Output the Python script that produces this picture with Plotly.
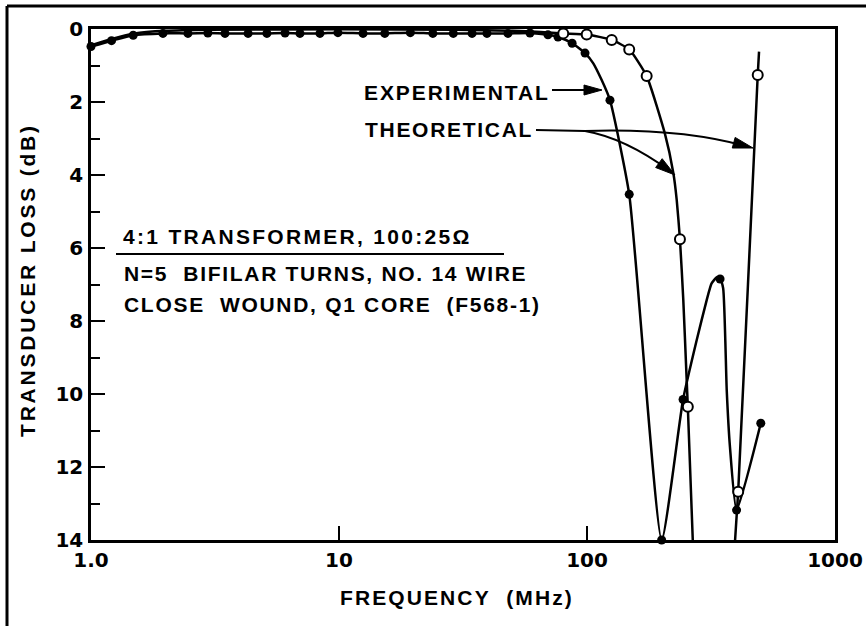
import plotly.graph_objects as go
import math

# ---------------- data ----------------
# Experimental (measured, filled dots)
exp_freq = [1.0, 1.21, 1.48, 1.95, 2.46, 2.96, 3.47, 4.30, 5.12, 6.06, 6.96, 8.38,
            9.9, 12.5, 15.3, 19.4, 23.9, 28.9, 34.4, 39.5, 48.0, 58.9, 69.6, 76.4,
            87.1, 98.2, 123.8, 148, 200, 244, 344, 401, 502]
exp_loss = [0.48, 0.32, 0.17, 0.12, 0.12, 0.11, 0.12, 0.12, 0.12, 0.11, 0.12, 0.12,
            0.10, 0.12, 0.12, 0.10, 0.12, 0.12, 0.12, 0.12, 0.12, 0.11, 0.16, 0.22,
            0.39, 0.66, 1.95, 4.53, 14.0, 10.15, 6.85, 13.18, 10.8]

# Experimental curve as drawn through the dots
exp_curve_freq = [1.0, 1.21, 1.48, 1.95, 2.46, 2.96, 3.47, 4.30, 5.12, 6.06, 6.96, 8.38,
                  9.9, 12.5, 15.3, 19.4, 23.9, 28.9, 34.4, 39.5, 48.0, 58.9, 69.6, 76.4,
                  87.1, 98.2, 106, 114.6, 123.8, 148, 200, 244, 277, 304, 318, 334,
                  344, 354, 366, 377, 401, 502]
exp_curve_loss = [0.48, 0.32, 0.17, 0.12, 0.12, 0.11, 0.12, 0.12, 0.12, 0.11, 0.12, 0.12,
                  0.10, 0.12, 0.12, 0.10, 0.12, 0.12, 0.12, 0.12, 0.12, 0.11, 0.16, 0.22,
                  0.39, 0.66, 0.94, 1.40, 1.95, 4.53, 14.0, 10.15, 8.52, 7.42, 6.97, 6.80,
                  6.85, 7.1, 9.9, 11.44, 13.18, 10.8]

# Theoretical curve (goes off scale between ~267 and ~395 MHz)
th_curve_freq = [1.0, 1.2, 1.5, 2.0, 3.0, 10, 30, 50, 65, 80.2, 99.7, 125.8, 148, 174,
                 206, 223, 230, 237, 244.5, 252, 255, 267, None, 395.5, 407, 488, 494]
th_curve_loss = [0.45, 0.28, 0.12, 0.05, 0.02, 0.01, 0.02, 0.05, 0.08, 0.12, 0.15, 0.30,
                 0.56, 1.29, 2.86, 3.95, 4.68, 5.76, 7.42, 9.53, 10.35, 14.0, None, 14.0,
                 12.68, 1.26, 0.62]
# Theoretical computed points (open circles)
th_pts_freq = [80.2, 99.7, 125.8, 148, 174, 237, 255, 407, 488]
th_pts_loss = [0.12, 0.15, 0.30, 0.56, 1.29, 5.76, 10.35, 12.68, 1.26]

x_tickvals = [1, 10, 100, 1000]
x_ticktext = ["1.0", "10", "100", "1000"]
y_tickvals = [0, 2, 4, 6, 8, 10, 12, 14]
y_minor = [1, 3, 5, 7, 9, 11, 13]

# ---------------- layout geometry ----------------
W_FIG, H_FIG = 866, 626
L, R, T, B = 91, 835, 29, 540
PW, PH = R - L, B - T

def px(x):
    return (x - L) / PW

def py(y):
    return (B - y) / PH

FONT = "Liberation Sans"
TICKFONT = "DejaVu Sans"
BLK = "black"

def spaced(txt, sp):
    return '<span style="letter-spacing:{}px">{}</span>'.format(sp, txt)

fig = go.Figure()

fig.add_trace(go.Scatter(x=th_curve_freq, y=th_curve_loss, mode="lines",
                         line=dict(color=BLK, width=2.5, shape="spline", smoothing=0.5),
                         connectgaps=False, hoverinfo="skip", showlegend=False))
fig.add_trace(go.Scatter(x=exp_curve_freq, y=exp_curve_loss, mode="lines",
                         line=dict(color=BLK, width=2.5, shape="spline", smoothing=0.5),
                         hoverinfo="skip", showlegend=False))
fig.add_trace(go.Scatter(x=exp_freq, y=exp_loss, mode="markers",
                         marker=dict(symbol="circle", size=9, color=BLK),
                         cliponaxis=False, name="Experimental", showlegend=False))
fig.add_trace(go.Scatter(x=th_pts_freq, y=th_pts_loss, mode="markers",
                         marker=dict(symbol="circle", size=10, color="white",
                                     line=dict(color=BLK, width=2)),
                         cliponaxis=False, name="Theoretical", showlegend=False))

tickfont = dict(family=TICKFONT, size=20, color=BLK, weight="bold")

fig.update_xaxes(type="log", range=[0, 3], tickvals=x_tickvals, ticktext=x_ticktext,
                 ticks="inside", ticklen=14, tickwidth=2, tickcolor=BLK,
                 showline=True, linewidth=2.5, linecolor=BLK, mirror=True,
                 showgrid=False, zeroline=False, tickfont=tickfont,
                 ticklabelstandoff=0, automargin=False)
fig.update_yaxes(range=[14, 0], tickvals=y_tickvals,
                 ticks="inside", ticklen=14, tickwidth=2, tickcolor=BLK,
                 minor=dict(tickvals=y_minor, ticks="inside", ticklen=9,
                            tickwidth=2, tickcolor=BLK),
                 showline=True, linewidth=2.5, linecolor=BLK, mirror=True,
                 showgrid=False, zeroline=False, tickfont=tickfont,
                 ticklabelstandoff=1, automargin=False)

shapes = []
# outer border (top and left)
shapes.append(dict(type="line", xref="paper", yref="paper",
                   x0=px(7), x1=px(866), y0=py(6), y1=py(6),
                   line=dict(color=BLK, width=3)))
shapes.append(dict(type="line", xref="paper", yref="paper",
                   x0=px(7), x1=px(7), y0=py(6), y1=py(626),
                   line=dict(color=BLK, width=3)))
# underline below the title of the inset text
shapes.append(dict(type="line", xref="paper", yref="paper",
                   x0=px(116), x1=px(504), y0=py(254), y1=py(254),
                   line=dict(color=BLK, width=2)))


def arrowhead(tx, ty, dx, dy, length=18, half=5):
    n = math.hypot(dx, dy)
    ux, uy = dx / n, dy / n
    bx, by = tx - length * ux, ty - length * uy
    nx, ny = -uy, ux
    p1 = (bx + half * nx, by + half * ny)
    p2 = (bx - half * nx, by - half * ny)
    path = "M {},{} L {},{} L {},{} Z".format(px(tx), py(ty), px(p1[0]), py(p1[1]),
                                             px(p2[0]), py(p2[1]))
    return dict(type="path", xref="paper", yref="paper", path=path,
                fillcolor=BLK, line=dict(color=BLK, width=1))

# EXPERIMENTAL arrow
shapes.append(dict(type="line", xref="paper", yref="paper",
                   x0=px(552), x1=px(592), y0=py(90), y1=py(90),
                   line=dict(color=BLK, width=2)))
shapes.append(arrowhead(602, 90, 1, 0, length=18, half=5))

# THEORETICAL arrows (two curved leaders)
pathA = "M {},{} L {},{} Q {},{} {},{}".format(px(536), py(130), px(585), py(131),
                                               px(625), py(138), px(670), py(171))
pathB = "M {},{} Q {},{} {},{}".format(px(585), py(131), px(680), py(128),
                                       px(745), py(146))
shapes.append(dict(type="path", xref="paper", yref="paper", path=pathA,
                   line=dict(color=BLK, width=2)))
shapes.append(dict(type="path", xref="paper", yref="paper", path=pathB,
                   line=dict(color=BLK, width=2)))
shapes.append(arrowhead(675, 175, 50, 37, length=20, half=5.5))
shapes.append(arrowhead(753, 148, 73, 20, length=20, half=5.5))

annfont = dict(family=FONT, size=21, color=BLK, weight="bold")
annotations = [
    dict(text=spaced("EXPERIMENTAL", 1.9), x=px(457), y=py(92)),
    dict(text=spaced("THEORETICAL", 1.7), x=px(449), y=py(129)),
]
for a in annotations:
    a.update(xref="paper", yref="paper", showarrow=False, xanchor="center",
             yanchor="middle", font=annfont)

left_texts = [
    ("4:1 TRANSFORMER, 100:25Ω", 121, 236, 2.3),
    ("N=5  BIFILAR TURNS, NO. 14 WIRE", 122, 273, 1.7),
    ("CLOSE  WOUND, Q1 CORE  (F568-1)", 122, 304, 1.7),
]
for txt, x, y, sp in left_texts:
    annotations.append(dict(text=spaced(txt, sp), x=px(x), y=py(y), xref="paper",
                            yref="paper", showarrow=False, xanchor="left",
                            yanchor="middle", font=annfont))

annotations.append(dict(text=spaced("TRANSDUCER LOSS (dB)", 2.8),
                        x=px(27), y=py(280), xref="paper", yref="paper",
                        textangle=-90, showarrow=False, xanchor="center",
                        yanchor="middle", font=annfont))
annotations.append(dict(text=spaced("FREQUENCY  (MHz)", 2.1),
                        x=px(457), y=py(597), xref="paper", yref="paper",
                        showarrow=False, xanchor="center", yanchor="middle",
                        font=annfont))

fig.update_layout(width=W_FIG, height=H_FIG,
                  margin=dict(l=L, r=W_FIG - R, t=T, b=H_FIG - B, pad=0,
                              autoexpand=False),
                  paper_bgcolor="white", plot_bgcolor="white",
                  shapes=shapes, annotations=annotations, showlegend=False)

fig.write_html("out.html", config={"displayModeBar": False},
               post_script="document.body.style.margin='0px';document.body.style.padding='0px';")
